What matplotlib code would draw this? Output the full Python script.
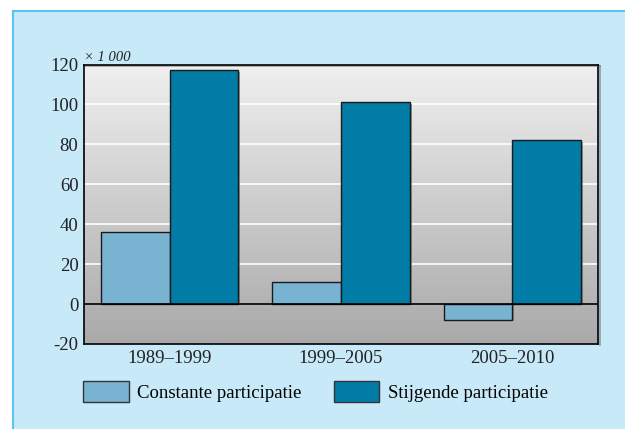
import numpy as np
import matplotlib
matplotlib.use("Agg")
import matplotlib.pyplot as plt
from matplotlib.patches import Rectangle, Patch
import matplotlib.patheffects as pe

plt.rcParams["font.family"] = ["Liberation Serif", "DejaVu Serif"]
plt.rcParams["axes.unicode_minus"] = False

periods = ["1989–1999", "1999–2005", "2005–2010"]
constante = [36, 11, -8]
stijgende = [117, 101, 82]
series_labels = ["Constante participatie", "Stijgende participatie"]

LIGHT = "#78b4d2"
DARK = "#007ca6"
PANEL = "#c7e9f8"
PANEL_EDGE = "#5cc3ee"

fig = plt.figure(figsize=(6.25, 4.29), dpi=100)
fig.patch.set_facecolor("white")
fig.patches.append(Rectangle((13 / 625, -0.01), 1.0, (429 - 11) / 429 + 0.01,
                             transform=fig.transFigure, facecolor=PANEL,
                             edgecolor=PANEL_EDGE, linewidth=1.5, zorder=-10))

ax = fig.add_axes([84 / 625, 1 - 344 / 429, 514 / 625, 279.5 / 429])
ax.set_zorder(2)
ax.set_xlim(-0.5, 2.5)
ax.set_ylim(-20, 120)

# grey gradient background
grad = np.linspace(0, 1, 256).reshape(-1, 1)
ax.imshow(grad, extent=(-0.5, 2.5, -20, 120), aspect="auto", origin="upper",
          cmap=matplotlib.colors.LinearSegmentedColormap.from_list(
              "g", ["#f0f0f0", "#a9a9a9"]), zorder=0)

for y in [20, 40, 60, 80, 100]:
    ax.axhline(y, color="white", linewidth=1.2, zorder=1)

shadow = [pe.SimplePatchShadow(offset=(1.5, -1), shadow_rgbFace="#555555", alpha=0.5),
          pe.Normal()]
x = np.arange(len(periods))
w = 0.4
ax.bar(x - w / 2, constante, width=w, color=LIGHT, edgecolor="#1a1a1a",
       linewidth=1.0, zorder=3, path_effects=shadow)
ax.bar(x + w / 2, stijgende, width=w, color=DARK, edgecolor="#1a1a1a",
       linewidth=1.0, zorder=3, path_effects=shadow)
ax.axhline(0, color="black", linewidth=1.2, zorder=4)

for s in ax.spines.values():
    s.set_linewidth(1.2)
    s.set_color("black")
ax.spines["right"].set_path_effects(
    [pe.SimpleLineShadow(offset=(1.5, -1), shadow_color="#555555", alpha=0.5), pe.Normal()])
ax.spines["top"].set_path_effects(
    [pe.SimpleLineShadow(offset=(1.5, -1), shadow_color="#555555", alpha=0.5), pe.Normal()])

ax.set_yticks([-20, 0, 20, 40, 60, 80, 100, 120])
ax.set_xticks(x)
ax.set_xticklabels(periods)
ax.tick_params(axis="both", length=0, labelsize=13.5, colors="#222222", pad=4)
ax.tick_params(axis="x", pad=4)

ax.text(-0.5, 120.3, "× 1 000", fontsize=10.5, style="italic", color="#222222",
        ha="left", va="bottom")

handles = [Patch(facecolor=LIGHT, edgecolor="#333333", linewidth=1.0),
           Patch(facecolor=DARK, edgecolor="#333333", linewidth=1.0)]
fig.legend(handles, series_labels, loc="lower left",
           bbox_to_anchor=(66 / 625, 1 - 419 / 429), ncol=2, frameon=False,
           fontsize=13.5, handlelength=2.45, handleheight=1.35,
           handletextpad=0.45, columnspacing=1.7)

fig.savefig("out.png", dpi=100)
